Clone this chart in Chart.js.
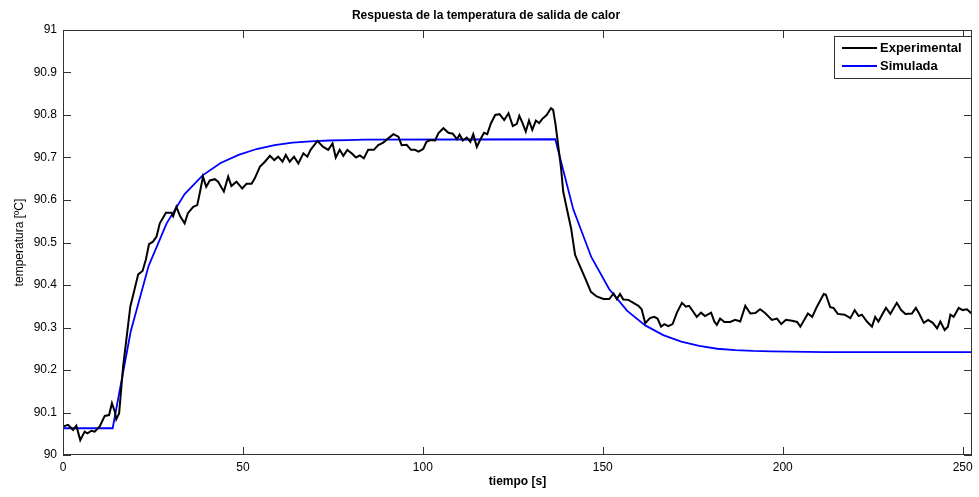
<!DOCTYPE html>
<html>
<head>
<meta charset="utf-8">
<script src="https://cdn.jsdelivr.net/npm/chart.js@4.4.1/dist/chart.umd.min.js"></script>
<style>
  html, body { margin: 0; padding: 0; background: #fff; }
  canvas { display: block; }
</style>
</head>
<body>
<canvas id="chart" width="979" height="497"></canvas>
<script>
// values
const expTime = [0, 1.4, 2.8, 3.7, 4.8, 6.0, 6.8, 7.9, 8.8, 10.2, 11.6, 12.8, 13.6, 14.4, 14.8, 15.6, 16.7, 17.6, 18.7, 19.6,
  20.9, 22.1, 23.0, 23.9, 25.0, 26.0, 26.9, 28.6, 30.1, 30.6, 31.5, 32.6, 33.8, 34.7, 36.2, 37.3, 38.0, 38.9, 39.8, 40.8,
  42.2, 43.1, 44.7, 45.9, 46.8, 48.2, 49.8, 51.0, 52.4, 53.3, 54.7, 56.1, 57.5, 58.7, 59.8, 61.0, 61.9, 63.0, 64.2, 65.4,
  66.8, 67.9, 68.8, 70.7, 72.3, 73.7, 74.9, 75.8, 76.9, 77.9, 79.0, 80.2, 81.4, 82.5, 83.6, 84.8, 86.4, 87.6, 89.0, 90.4,
  91.8, 93.2, 94.1, 95.5, 96.7, 97.8, 98.8, 100.1, 101.0, 102.1, 103.4, 104.3, 105.7, 107.1, 108.3, 109.5, 110.2, 111.1, 112.2, 113.2,
  114.0, 115.0, 115.9, 117.0, 117.9, 118.9, 120.1, 121.3, 122.6, 123.8, 125.0, 126.1, 126.8, 127.6, 128.6, 129.5, 130.4, 131.4, 132.3, 133.2,
  134.4, 135.6, 136.2, 136.9, 137.7, 138.4, 139.0, 140.0, 141.2, 142.3, 143.7, 145.1, 146.7, 148.3, 150.2, 151.8, 153.0, 153.9, 154.8, 155.7,
  157.1, 158.5, 159.9, 160.8, 161.8, 163.1, 164.3, 165.2, 166.2, 167.1, 168.2, 169.4, 170.6, 172.0, 173.1, 174.0, 174.9, 176.1, 177.3, 178.4,
  180.1, 181.0, 181.7, 182.6, 183.8, 185.4, 186.8, 188.2, 189.6, 191.0, 192.4, 193.7, 195.1, 197.0, 198.4, 199.6, 200.9, 202.6, 204.0, 204.9,
  207.0, 208.2, 209.5, 211.4, 212.0, 213.2, 214.1, 215.3, 217.2, 218.8, 220.0, 221.1, 222.0, 223.4, 224.8, 225.7, 226.6, 227.8, 228.7, 229.9,
  231.7, 232.9, 234.1, 235.9, 237.0, 237.9, 239.2, 240.4, 241.7, 242.9, 243.8, 245.0, 245.9, 246.6, 247.5, 248.9, 250.0, 251.2, 252.6];
const expTemp = [90.067, 90.071, 90.059, 90.069, 90.035, 90.055, 90.051, 90.057, 90.055, 90.067, 90.092, 90.094, 90.122, 90.102, 90.084, 90.098, 90.208, 90.271, 90.349, 90.380,
  90.425, 90.433, 90.459, 90.496, 90.502, 90.514, 90.545, 90.570, 90.570, 90.562, 90.584, 90.561, 90.545, 90.569, 90.584, 90.588, 90.616, 90.655, 90.631, 90.646,
  90.649, 90.643, 90.620, 90.655, 90.633, 90.643, 90.627, 90.638, 90.638, 90.651, 90.678, 90.690, 90.704, 90.694, 90.702, 90.690, 90.706, 90.690, 90.702, 90.686,
  90.710, 90.702, 90.718, 90.739, 90.725, 90.718, 90.733, 90.700, 90.718, 90.704, 90.718, 90.710, 90.700, 90.705, 90.698, 90.718, 90.718, 90.729, 90.735, 90.745,
  90.755, 90.749, 90.729, 90.730, 90.718, 90.718, 90.714, 90.720, 90.737, 90.741, 90.740, 90.757, 90.769, 90.758, 90.756, 90.743, 90.754, 90.740, 90.747, 90.737,
  90.755, 90.725, 90.741, 90.758, 90.755, 90.780, 90.800, 90.802, 90.788, 90.804, 90.774, 90.779, 90.798, 90.783, 90.761, 90.787, 90.765, 90.787, 90.781, 90.791,
  90.800, 90.816, 90.812, 90.776, 90.722, 90.675, 90.620, 90.580, 90.533, 90.471, 90.443, 90.416, 90.384, 90.373, 90.367, 90.367, 90.380, 90.367, 90.379, 90.366,
  90.365, 90.358, 90.351, 90.343, 90.310, 90.322, 90.325, 90.321, 90.302, 90.308, 90.303, 90.308, 90.335, 90.358, 90.349, 90.351, 90.340, 90.325, 90.335, 90.327,
  90.335, 90.314, 90.306, 90.321, 90.313, 90.313, 90.318, 90.314, 90.351, 90.333, 90.334, 90.343, 90.334, 90.318, 90.321, 90.308, 90.318, 90.316, 90.313, 90.302,
  90.333, 90.325, 90.349, 90.379, 90.377, 90.348, 90.346, 90.332, 90.330, 90.322, 90.341, 90.327, 90.330, 90.314, 90.302, 90.325, 90.314, 90.333, 90.346, 90.332,
  90.358, 90.341, 90.332, 90.333, 90.346, 90.333, 90.311, 90.318, 90.311, 90.298, 90.314, 90.294, 90.302, 90.330, 90.325, 90.346, 90.341, 90.343, 90.332];

const simTime = [0, 13.8, 18.8, 23.8, 28.8, 33.8, 38.8, 43.8, 48.8, 53.8, 58.8, 63.8, 68.8, 73.8, 78.8, 83.8, 136.8,
  141.8, 146.8, 151.8, 156.8, 161.8, 166.8, 171.8, 176.8, 181.8, 186.8, 191.8, 196.8, 201.8, 211.8, 252.6];
const simTemp = [90.063, 90.063, 90.290, 90.445, 90.545, 90.614, 90.658, 90.687, 90.706, 90.720, 90.729, 90.735, 90.738, 90.740, 90.741, 90.742, 90.743,
  90.578, 90.466, 90.390, 90.339, 90.305, 90.282, 90.267, 90.257, 90.250, 90.247, 90.245, 90.244, 90.243, 90.242, 90.242];

const seriesNames = ["Experimental", "Simulada"];
const xTickStep = 50;
const yTickStep = 0.1;

Chart.defaults.font.family = "'Liberation Sans', Arial, sans-serif";
Chart.defaults.color = "#000";

function pairs(xs, ys) {
  return xs.map((x, i) => ({ x: x, y: ys[i] }));
}

// MATLAB-like box with inward ticks on all four sides
const boxPlugin = {
  id: "box",
  afterDraw(chart) {
    const ctx = chart.ctx;
    const a = chart.chartArea;
    const xs = chart.scales.x;
    const ys = chart.scales.y;
    const len = 8;
    ctx.save();
    ctx.strokeStyle = "#333";
    ctx.lineWidth = 1;
    ctx.strokeRect(a.left + 0.5, a.top + 0.5, a.right - a.left - 1, a.bottom - a.top - 1);
    ctx.beginPath();
    xs.ticks.forEach(t => {
      const px = Math.round(xs.getPixelForValue(t.value)) + 0.5;
      ctx.moveTo(px, a.bottom);
      ctx.lineTo(px, a.bottom - len);
      ctx.moveTo(px, a.top);
      ctx.lineTo(px, a.top + len);
    });
    ys.ticks.forEach(t => {
      const py = Math.round(ys.getPixelForValue(t.value)) + 0.5;
      ctx.moveTo(a.left, py);
      ctx.lineTo(a.left + len, py);
      ctx.moveTo(a.right, py);
      ctx.lineTo(a.right - len, py);
    });
    ctx.stroke();
    ctx.restore();
  }
};

// legend box in the upper right corner of the plot
const legendPlugin = {
  id: "boxLegend",
  afterDraw(chart) {
    const ctx = chart.ctx;
    const a = chart.chartArea;
    const w = 137, h = 42;
    const x0 = a.right - w - 1;
    const y0 = a.top + 6;
    ctx.save();
    ctx.fillStyle = "#fff";
    ctx.fillRect(x0, y0, w, h);
    ctx.strokeStyle = "#333";
    ctx.lineWidth = 1;
    ctx.strokeRect(x0 + 0.5, y0 + 0.5, w, h);
    ctx.font = "bold 13px 'Liberation Sans', Arial, sans-serif";
    ctx.textBaseline = "middle";
    chart.data.datasets.forEach((ds, i) => {
      const cy = y0 + 12 + i * 18;
      ctx.strokeStyle = ds.borderColor;
      ctx.lineWidth = 2;
      ctx.beginPath();
      ctx.moveTo(x0 + 8, cy);
      ctx.lineTo(x0 + 43, cy);
      ctx.stroke();
      ctx.fillStyle = "#000";
      ctx.fillText(ds.label, x0 + 46, cy);
    });
    ctx.restore();
  }
};

const chart = new Chart(document.getElementById("chart").getContext("2d"), {
  type: "line",
  data: {
    datasets: [
      {
        label: seriesNames[0],
        data: pairs(expTime, expTemp),
        borderColor: "#000000",
        borderWidth: 2,
        pointRadius: 0,
        tension: 0
      },
      {
        label: seriesNames[1],
        data: pairs(simTime, simTemp),
        borderColor: "#0000ff",
        borderWidth: 1.8,
        pointRadius: 0,
        tension: 0
      }
    ]
  },
  options: {
    responsive: false,
    animation: false,
    parsing: false,
    layout: { padding: { left: 0, right: 7, top: 0, bottom: 0 } },
    plugins: {
      legend: { display: false },
      tooltip: { enabled: false },
      title: {
        display: true,
        text: "Respuesta de la temperatura de salida de calor",
        font: { size: 12, weight: "bold" },
        padding: { top: 8, bottom: 7.6 },
        color: "#000"
      }
    },
    scales: {
      x: {
        type: "linear",
        min: 0,
        max: 252.6,
        grid: { display: false, drawTicks: false },
        border: { display: false },
        ticks: {
          stepSize: xTickStep,
          includeBounds: false,
          padding: 5,
          maxRotation: 0,
          font: { size: 12 },
          color: "#000"
        },
        title: {
          display: true,
          text: "tiempo [s]",
          font: { size: 12, weight: "bold" },
          padding: { top: 0, bottom: 7.8 },
          color: "#000"
        },
        afterFit(scale) { scale.height = 42; }
      },
      y: {
        type: "linear",
        min: 90,
        max: 91,
        grid: { display: false, drawTicks: false },
        border: { display: false },
        ticks: {
          stepSize: yTickStep,
          padding: 6,
          font: { size: 12 },
          color: "#000",
          callback: v => String(Number(v.toFixed(1)))
        },
        title: {
          display: true,
          text: "temperatura [ºC]",
          font: { size: 12 },
          padding: { top: 12, bottom: 0 },
          color: "#000"
        },
        afterFit(scale) { scale.width = 63; }
      }
    }
  },
  plugins: [boxPlugin, legendPlugin]
});
</script>
</body>
</html>
